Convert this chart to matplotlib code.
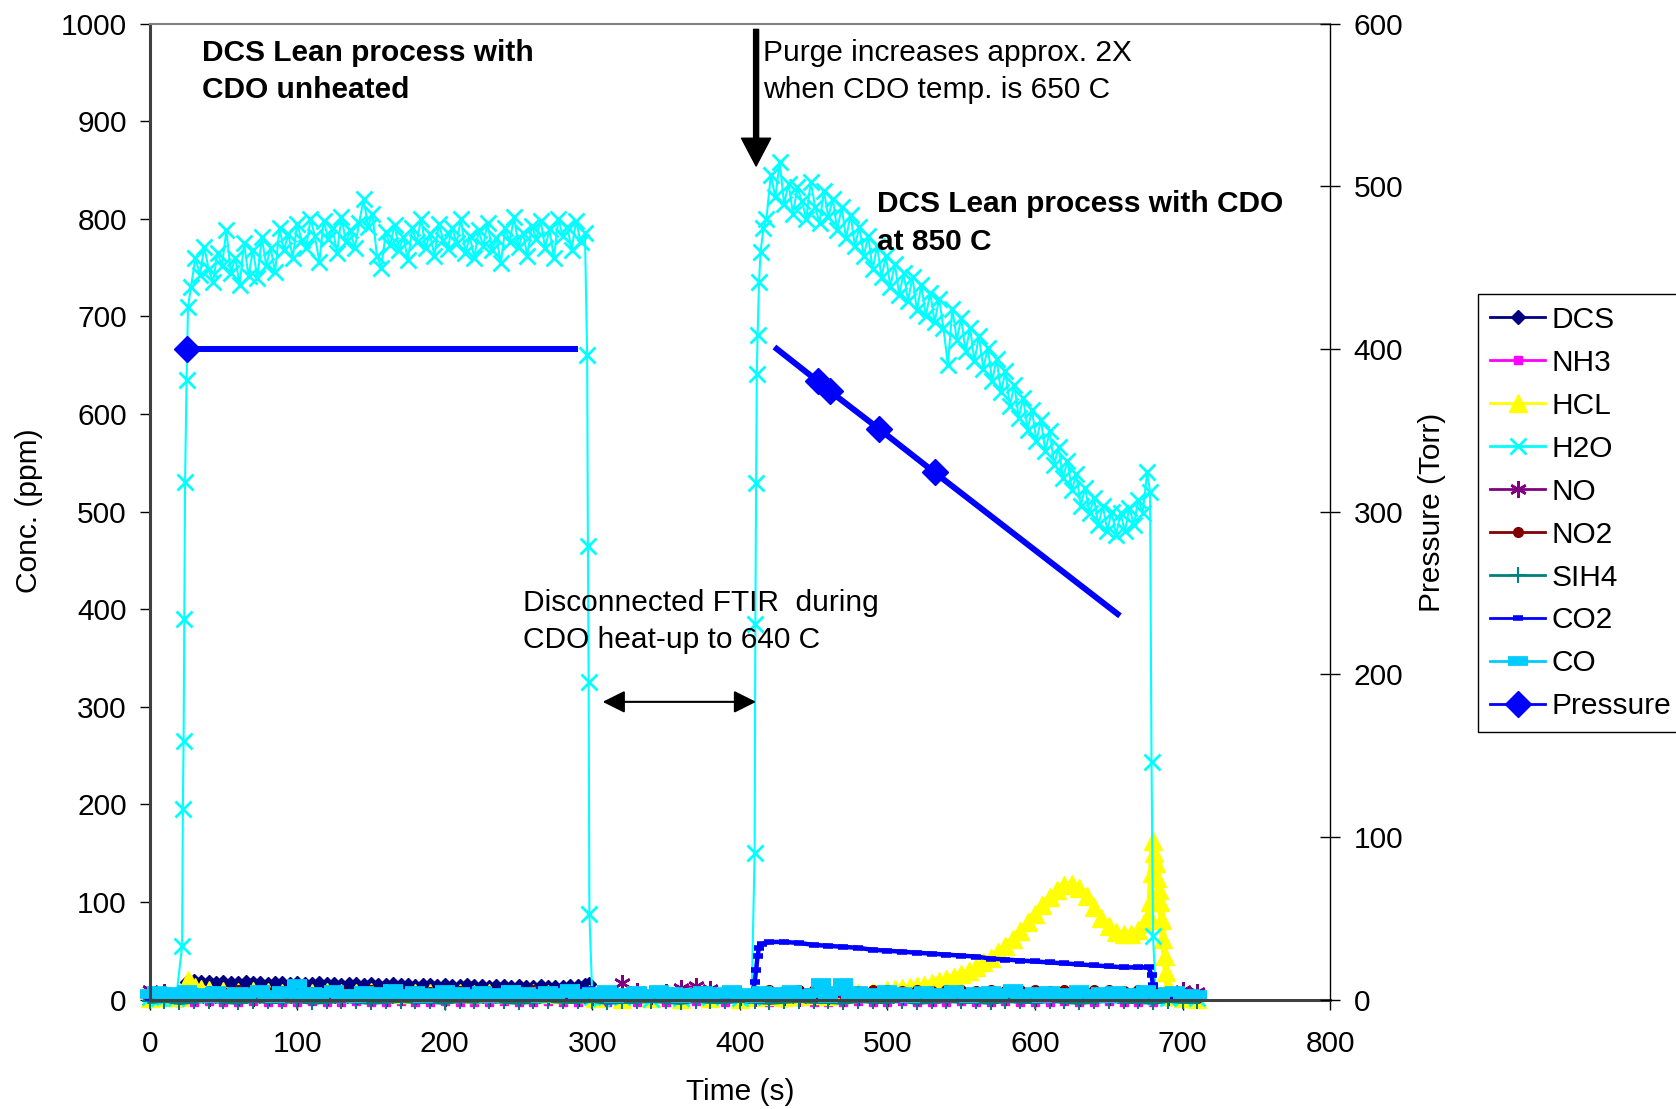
import numpy as np
import matplotlib
matplotlib.use("Agg")
import matplotlib.pyplot as plt

plt.rcParams["font.family"] = ["Liberation Sans", "DejaVu Sans"]
FS = 21.5

# ---- H2O (ppm) ----
h2o_rise1_t = [0, 6, 12, 18, 22, 22.5, 23, 23.5, 24, 25, 26]
h2o_rise1_v = [3, 2, 4, 2, 55, 195, 265, 390, 530, 635, 710]
h2o_plat1_v = [
    730, 760, 742, 771, 748, 735, 765, 752, 788, 744, 760, 732, 775, 741, 768,
    739, 781, 752, 770, 745, 790, 768, 784, 760, 795, 778, 770, 800, 782, 756,
    798, 779, 790, 765, 802, 776, 788, 770, 796, 820, 792, 805, 762, 750, 786,
    773, 794, 768, 781, 758, 790, 776, 800, 770, 784, 762, 795, 778, 769, 791,
    775, 800, 765, 782, 760, 788, 772, 796, 768, 780, 755, 790, 776, 802, 771,
    785, 762, 793, 779, 798, 770, 789, 760, 800, 782, 792, 768, 798, 776, 785,
]
h2o_gap_t = [296.5, 297, 297.5, 298, 300, 306, 320, 340, 360, 380, 400, 408,
             410, 410.5, 411, 411.5, 412, 413, 414, 416]
h2o_gap_v = [660, 465, 325, 88, 3, 2, 3, 1, 2, 3, 2, 3,
             150, 385, 529, 641, 681, 735, 766, 790]
h2o_plat2_v = [
    800, 845, 822, 858, 815, 836, 805, 832, 818, 800, 838, 812, 796, 828, 802,
    820, 788, 812, 780, 804, 772, 792, 762, 782, 748, 772, 740, 762, 730, 754,
    722, 744, 716, 740, 706, 732, 700, 724, 694, 718, 688, 650, 708, 676, 698,
    664, 688, 654, 680, 646, 668, 634, 656, 622, 644, 608, 630, 596, 616, 584,
    604, 572, 594, 562, 582, 548, 566, 534, 552, 522, 538, 506, 524, 498, 514,
    486, 506, 480, 500, 476, 498, 480, 504, 486, 512, 498, 540,
]
h2o_end_t = [678, 679, 680, 682, 690, 700, 710]
h2o_end_v = [520, 243, 65, 3, 2, 3, 2]

# ---- DCS (ppm) ----
dcs_t = [0, 10, 20, 23] + list(range(25, 300, 5)) + [298, 302] + list(range(320, 720, 20)) + [710]
dcs_v = [2, 2, 3, 6,
         18, 19, 18, 18, 17, 18, 17, 17, 18, 17, 17, 16, 17, 17, 16, 17, 16, 16, 17,
         16, 16, 15, 16, 16, 15, 16, 15, 15, 16, 15, 15, 14, 15, 15, 14, 15, 14, 14,
         15, 14, 14, 13, 14, 14, 13, 14, 13, 13, 14, 13, 13, 13, 14, 14, 15,
         16, 3,
         2, 3, 2, 2, 3, 2, 2, 3, 2, 2, 3, 2, 2, 3, 2, 2, 3, 2, 2, 3,
         2]

# ---- HCL (ppm) ----
hcl_t = [0, 10, 20, 24, 26, 28, 31, 35, 40] + list(range(50, 300, 10)) + [298, 302] \
    + list(range(320, 420, 20)) + list(range(410, 500, 10)) + list(range(500, 675, 5)) \
    + [674, 677, 678, 679, 680, 681, 682, 683, 684, 685, 686, 687, 688, 689, 690, 692, 700, 710]
hcl_v = [2, 3, 3, 12, 20, 16, 13, 11, 10,
         9, 8, 9, 8, 7, 8, 7, 8, 7, 7, 8, 7, 6, 7, 7, 6, 7, 6, 7, 6, 6, 7, 6, 6, 7,
         6, 2,
         1, 2, 1, 2, 1,
         3, 4, 3, 4, 5, 4, 6, 7, 8,
         10, 11, 12, 13, 14, 15, 17, 19, 21, 23, 26, 29, 33, 38, 43, 49, 55, 62, 70,
         79, 88, 97, 105, 112, 117, 118, 114, 106, 95, 84, 75, 69, 67, 67, 71,
         78, 87, 100, 130, 162, 150, 140, 125, 112, 100, 82, 62, 45, 28, 14, 4, 2, 1]

# ---- CO2 (ppm) ----
co2_t = [0, 10, 20] + list(range(30, 300, 10)) + [298, 302, 320, 340, 360, 380, 400, 408,
                                                  409, 410, 411, 412, 413, 415] \
    + list(range(420, 680, 10)) + [677, 679, 680, 681, 683, 690, 700, 710]
co2_v = [2, 3, 2,
         5, 6, 5, 6, 7, 6, 7, 6, 7, 8, 7, 8, 7, 8, 9, 8, 9, 8, 9, 10, 9, 10, 9, 10, 10, 11, 10,
         11, 3, 2, 3, 2, 3, 2, 3,
         8, 18, 30, 45, 53, 57,
         59, 59, 58, 56, 55, 54, 53, 51, 50, 49, 48, 47, 46, 45, 44, 42, 41, 40, 39, 38,
         37, 36, 35, 34, 33, 33,
         33, 25, 15, 8, 3, 2, 2, 2]

# ---- series on a 10 s grid, 0..710 s (ppm) ----
no_v = [10, 8, 4,
        3, 2, 4, 3, 2, 3, 4, 2, 3, 3, 2, 4, 3, 2, 3, 4, 3, 2, 3, 4, 2, 3, 3, 2, 4, 3, 2,
        3, 5, 17, 9, 4, 8, 12, 14, 11, 5, 3,
        2, 4, 3, 2, 3, 4, 2, 3, 3, 2, 4, 3, 2, 3, 4, 3, 2, 3, 4, 2, 3, 3, 2, 4, 3, 2, 3, 4, 3,
        10, 8]
no2_v = [6, 4, 3,
         8, 9, 8, 10, 9, 8, 9, 10, 8, 9, 9, 8, 10, 9, 8, 9, 8, 10, 9, 8, 9, 9, 8, 10, 9, 8, 9,
         3, 3, 4, 3, 3, 2, 3, 3, 4, 3, 3,
         9, 10, 9, 10, 10, 9, 10, 9, 10, 10, 9, 10, 9, 10, 10, 9, 10, 9, 10, 10, 9, 10, 9,
         10, 10, 9, 10, 9,
         4, 3, 2]
sih4_v = [-2, -1, -3, -2, -1, -2, -3, -1, -2, -2, -1, -3, -2, -1, -2, -3, -2, -1,
          -2, -2, -3, -1, -2, -1, -2, -3, -2, -1, -2, -2, -1, -3, -2, -2, -1, -2,
          -3, -1, -2, -2, -1, -2, -3, -2, -1, -2, -2, -3, -1, -2, -2, -1, -3, -2,
          -1, -2, -2, -3, -1, -2, -2, -1, -2, -3, -2, -1, -2, -2, -3, -1, -2, -2]
nh3_v = [-3, -2, -3, -3, -2, -3, -3, -2, -3, -3, -3, -2, -3, -3, -2, -3, -3, -2,
         -3, -3, -2, -3, -3, -3, -2, -3, -3, -2, -3, -3, -2, -3, -3, -3, -2, -3,
         -3, -2, -3, -3, -3, -2, -3, -3, -2, -3, -3, -3, -2, -3, -3, -2, -3, -3,
         -3, -2, -3, -3, -2, -3, -3, -3, -2, -3, -3, -2, -3, -3, -3, -2, -3, -3]

# ---- CO on a 5 s grid, 0..710 s (ppm) ----
co_v = [6, 9, 4, 8, 3, 10, 5, 7, 2, 9, 6, 4,
        8, 3, 7, 10, 5, 2, 9, 6, 16, 4, 8, 3,
        7, 10, 4, 6, 2, 9, 5, 8, 3, 11, 6, 4,
        9, 2, 7, 5, 10, 3, 8, 6, 4, 9, 2, 7,
        5, 10, 3, 8, 6, 2, 9, 4, 7, 11, 3, 6,
        8, 4, 10, 2, 7, 5, 9, 3, 6, 10, 4, 8,
        2, 7, 5, 9, 3, 8, 6, 10, 4, 7, 2, 9,
        5, 8, 3, 10, 6, 4, 7, 17, 2, 9, 17, 5,
        9, 3, 7, 5, 10, 4, 8, 2, 6, 9, 3, 7,
        4, 10, 6, 2, 8, 5, 9, 3, 7, 11, 4, 6,
        8, 2, 9, 5, 7, 3, 10, 6, 4, 8, 2, 9,
        5, 7, 3, 10, 6, 4, 8, 9, 3, 6, 5]

# ---- Pressure (Torr, right axis) ----
p1_t = [25, 288]
p1_v = [400, 400]
p2_t = [425, 453, 461, 494, 532, 656]
p2_v = [400, 380, 374, 351, 324, 237]

t10 = np.arange(0, 720, 10)
t5 = np.arange(0, 715, 5)

h2o_t = (h2o_rise1_t + [28 + 3 * i for i in range(len(h2o_plat1_v))] + h2o_gap_t
         + [418 + 3 * i for i in range(len(h2o_plat2_v))] + h2o_end_t)
h2o_v = h2o_rise1_v + h2o_plat1_v + h2o_gap_v + h2o_plat2_v + h2o_end_v

fig = plt.figure(figsize=(16.76, 11.09), dpi=100)
ax = fig.add_axes([0.0893, 0.0987, 0.7043, 0.8801])
ax2 = ax.twinx()

low = dict(clip_on=False)
l_dcs, = ax.plot(dcs_t, dcs_v, color="#000080", marker="D", ms=7, lw=2.5, label="DCS", **low)
l_nh3, = ax.plot(t10, nh3_v, color="#FF00FF", marker="s", ms=6, lw=1.5, label="NH3", **low)
l_hcl, = ax.plot(hcl_t, hcl_v, color="#FFFF00", marker="^", ms=13, lw=5, label="HCL", **low)
l_h2o, = ax.plot(h2o_t, h2o_v, color="#00FFFF", marker="x", ms=12, mew=2, lw=1.5,
                 label="H2O", **low)
l_no, = ax.plot(t10, no_v, color="#800080", marker=(6, 2, 0), ms=12, mew=1.8, lw=1.5,
                label="NO", **low)
l_no2, = ax.plot(t10, no2_v, color="#800000", marker="o", ms=7, lw=2.5, label="NO2", **low)
l_sih4, = ax.plot(t10, sih4_v, color="#008080", marker="+", ms=11, mew=1.5, lw=3.5,
                  label="SIH4", **low)
l_co2, = ax.plot(co2_t, co2_v, color="#0000FF", marker="_", ms=7, mew=4, lw=3.2,
                 label="CO2", **low)
l_co, = ax.plot(t5, co_v, color="#00CCFF", marker="_", ms=14, mew=7, lw=3, label="CO", **low)

l_p, = ax2.plot(p1_t, p1_v, color="#0000FF", marker="D", ms=13, lw=4.3, markevery=[0],
                label="Pressure")
ax2.plot(p2_t, p2_v, color="#0000FF", marker="D", ms=13, lw=4.3, markevery=[1, 2, 3, 4])

ax.set_xlim(0, 800)
ax.set_ylim(0, 1000)
ax2.set_ylim(0, 600)
ax.set_xticks(range(0, 801, 100))
ax.set_yticks(range(0, 1001, 100))
ax2.set_yticks(range(0, 601, 100))

ax.spines["top"].set_color("#808080")
ax.spines["top"].set_linewidth(1.5)
for s in ["left", "bottom"]:
    ax.spines[s].set_color("#404040")
    ax.spines[s].set_linewidth(2.2)
ax.spines["right"].set_visible(False)
for s in ["top", "left", "bottom"]:
    ax2.spines[s].set_visible(False)
ax2.spines["right"].set_color("black")
ax2.spines["right"].set_linewidth(1)

ax.tick_params(axis="y", direction="out", length=7, width=1, pad=9.5, labelsize=FS)
ax.tick_params(axis="x", direction="out", length=7, width=1, pad=15, labelsize=FS)
ax2.tick_params(axis="y", direction="inout", length=14, width=1, pad=10, labelsize=FS)

# annotations
LS = 1.42
ax.text(35.5, 984, "DCS Lean process with\nCDO unheated", fontsize=FS, fontweight="bold",
        ha="left", va="top", linespacing=LS)
ax.text(415.7, 984, "Purge increases approx. 2X\nwhen CDO temp. is 650 C", fontsize=FS,
        ha="left", va="top", linespacing=LS)
ax.text(492.7, 829, "DCS Lean process with CDO\nat 850 C", fontsize=FS, fontweight="bold",
        ha="left", va="top", linespacing=LS)
ax.text(253, 420.5, "Disconnected FTIR  during\nCDO heat-up to 640 C", fontsize=FS,
        ha="left", va="top", linespacing=LS)

ax.annotate("", xy=(411, 854), xytext=(411, 994),
            arrowprops=dict(facecolor="black", edgecolor="black", width=3.6,
                            headwidth=21, headlength=20, shrink=0))
ax.annotate("", xy=(307, 305), xytext=(411, 305),
            arrowprops=dict(arrowstyle="<|-|>", color="black", lw=1.5,
                            mutation_scale=34, shrinkA=0, shrinkB=0))

fig.text(740 / 1676, 1 - 1092 / 1109, "Time (s)", fontsize=FS, ha="center", va="center")
fig.text(29 / 1676, 1 - 511 / 1109, "Conc. (ppm)", fontsize=FS, ha="center", va="center",
         rotation=90)
fig.text(1432 / 1676, 1 - 512 / 1109, "Pressure (Torr)", fontsize=FS, ha="center",
         va="center", rotation=90)

handles = [l_dcs, l_nh3, l_hcl, l_h2o, l_no, l_no2, l_sih4, l_co2, l_co, l_p]
leg = fig.legend(handles, [h.get_label() for h in handles], loc="upper left",
                 bbox_to_anchor=(1478 / 1676, 1 - 294 / 1109), fontsize=FS,
                 frameon=True, fancybox=False, edgecolor="black", framealpha=1,
                 borderpad=0.4, labelspacing=0.5, handlelength=1.85,
                 handletextpad=0.2, borderaxespad=0)
leg.get_frame().set_linewidth(1)
for h in leg.legend_handles:
    h.set_linewidth(2)

fig.savefig("out.png", dpi=100)
